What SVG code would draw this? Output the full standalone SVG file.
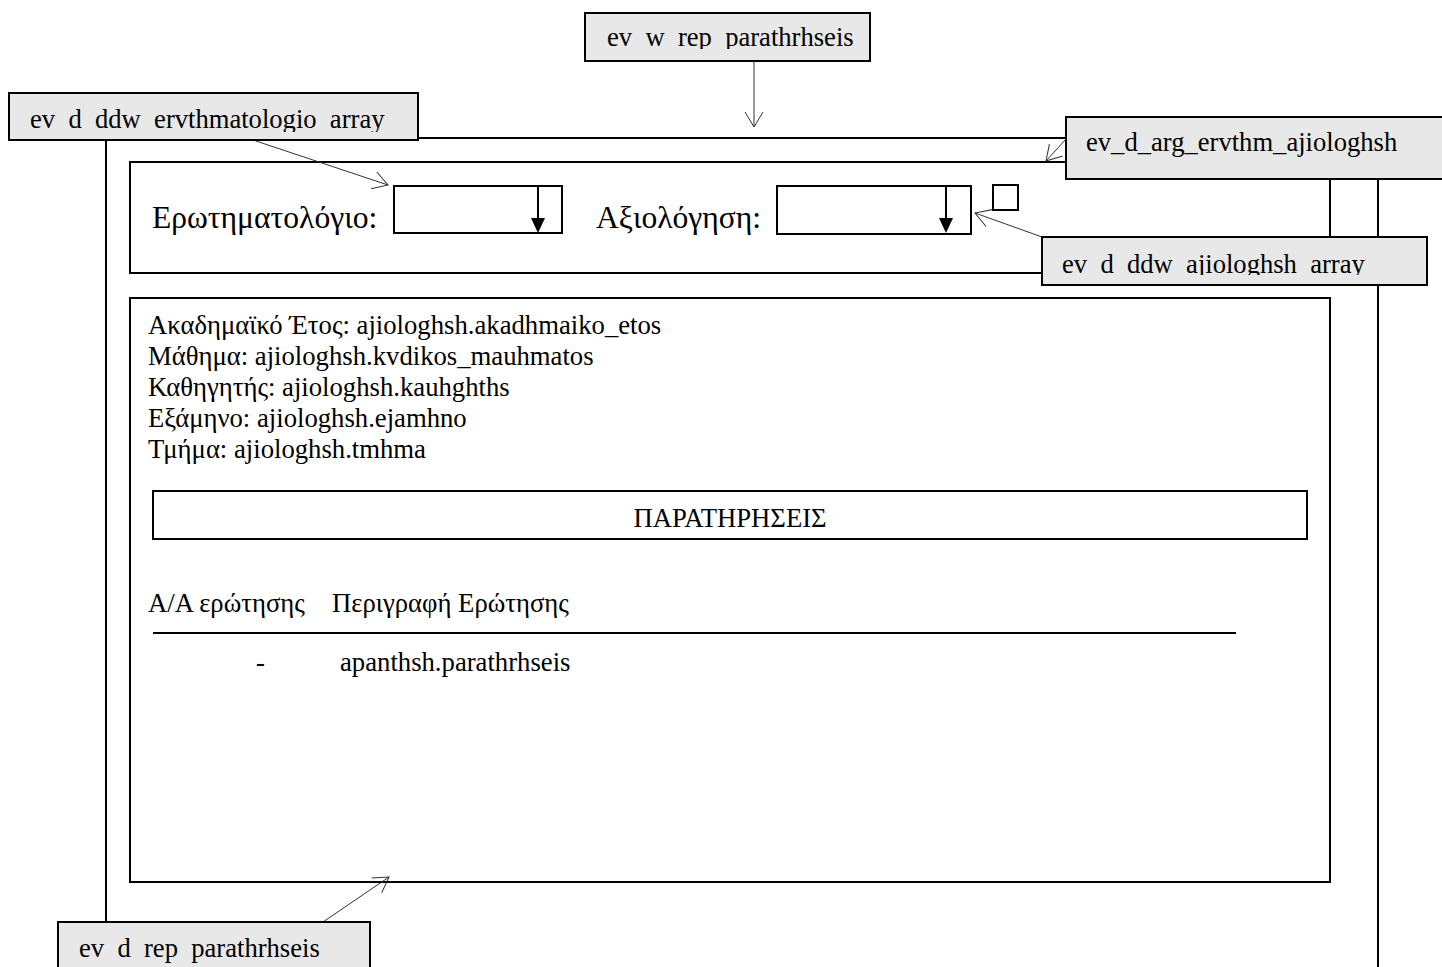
<svg xmlns="http://www.w3.org/2000/svg" width="1442" height="967" viewBox="0 0 1442 967">
<style>
.t{font-family:"Liberation Serif","Times New Roman",serif;fill:#000}
.lbl{font-size:26.6px}
.body{font-size:26.7px}
.big{font-size:31.6px}
.frame{fill:none;stroke:#000;stroke-width:2}
.lab{fill:#e8e8e8;stroke:#000;stroke-width:2}
.conn{fill:none;stroke:#333;stroke-width:1}
</style>
<defs>
<marker id="arr" viewBox="0 0 16 20" refX="15" refY="10" markerWidth="16" markerHeight="20" orient="auto" markerUnits="userSpaceOnUse">
<path d="M0,1 L15,10 L0,19" fill="none" stroke="#333" stroke-width="1"/>
</marker>
<clipPath id="c1"><rect x="9" y="93" width="409" height="39"/></clipPath>
<clipPath id="c2"><rect x="585" y="13" width="285" height="36"/></clipPath>
<clipPath id="c4"><rect x="1042" y="237" width="385" height="38"/></clipPath>
</defs>

<g id="outer-frame">
<rect class="frame" x="106" y="138" width="1272" height="900"/>
</g>

<g id="selector-panel">
<rect class="frame" x="130" y="162" width="1200" height="111"/>
<text class="t big" x="152" y="228">Ερωτηματολόγιο:</text>
<text class="t big" x="596" y="228">Αξιολόγηση:</text>
</g>

<g id="dropdown-erothmatologio">
<rect class="frame" x="394" y="186" width="168" height="47"/>
<line x1="538" y1="186" x2="538" y2="219" stroke="#000" stroke-width="2"/>
<polygon points="531,218 545,218 538,233" fill="#000"/>
</g>

<g id="dropdown-ajiologhsh">
<rect class="frame" x="777" y="186" width="194" height="48"/>
<line x1="946" y1="186" x2="946" y2="219" stroke="#000" stroke-width="2"/>
<polygon points="939,218 953,218 946,233" fill="#000"/>
</g>

<g id="checkbox">
<rect class="frame" x="993" y="185" width="25" height="25"/>
</g>

<g id="report-panel">
<rect class="frame" x="130" y="298" width="1200" height="584"/>
<text class="t body" x="148" y="334">Ακαδημαϊκό Έτος: ajiologhsh.akadhmaiko_etos</text>
<text class="t body" x="148" y="365">Μάθημα: ajiologhsh.kvdikos_mauhmatos</text>
<text class="t body" x="148" y="396">Καθηγητής: ajiologhsh.kauhghths</text>
<text class="t body" x="148" y="427">Εξάμηνο: ajiologhsh.ejamhno</text>
<text class="t body" x="148" y="458">Τμήμα: ajiologhsh.tmhma</text>
</g>

<g id="title-parathrhseis">
<rect class="frame" x="153" y="491" width="1154" height="48"/>
<text class="t body" x="730" y="527" text-anchor="middle">ΠΑΡΑΤΗΡΗΣΕΙΣ</text>
</g>

<g id="table">
<text class="t body" x="148" y="612">Α/Α ερώτησης</text>
<text class="t body" x="332" y="612">Περιγραφή Ερώτησης</text>
<line x1="153" y1="633" x2="1236" y2="633" stroke="#000" stroke-width="2"/>
<text class="t body" x="256" y="671">-</text>
<text class="t body" x="340" y="671">apanthsh.parathrhseis</text>
</g>

<g id="connectors">
<line class="conn" x1="250" y1="139" x2="388" y2="185" marker-end="url(#arr)"/>
<line class="conn" x1="754" y1="61" x2="754" y2="127" marker-end="url(#arr)"/>
<line class="conn" x1="1066" y1="139" x2="1046" y2="161" marker-end="url(#arr)"/>
<line class="conn" x1="1042" y1="237" x2="975" y2="213" marker-end="url(#arr)"/>
<line class="conn" x1="323" y1="922" x2="389" y2="877" marker-end="url(#arr)"/>
</g>

<g id="label-ev_d_ddw_ervthmatologio_array">
<rect class="lab" x="9" y="93" width="409" height="47"/>
<text class="t lbl" x="30" y="128" clip-path="url(#c1)" xml:space="preserve">ev  d  ddw  ervthmatologio  array</text>
</g>

<g id="label-ev_w_rep_parathrhseis">
<rect class="lab" x="585" y="13" width="285" height="48"/>
<text class="t lbl" x="607" y="46" clip-path="url(#c2)" xml:space="preserve">ev  w  rep  parathrhseis</text>
</g>

<g id="label-ev_d_arg_ervthm_ajiologhsh">
<rect class="lab" x="1066" y="117" width="380" height="62"/>
<text class="t lbl" x="1086" y="151">ev_d_arg_ervthm_ajiologhsh</text>
</g>

<g id="label-ev_d_ddw_ajiologhsh_array">
<rect class="lab" x="1042" y="237" width="385" height="48"/>
<text class="t lbl" x="1062" y="273" clip-path="url(#c4)" xml:space="preserve">ev  d  ddw  ajiologhsh  array</text>
</g>

<g id="label-ev_d_rep_parathrhseis">
<rect class="lab" x="58" y="922" width="312" height="60"/>
<text class="t lbl" x="79" y="957" xml:space="preserve">ev  d  rep  parathrhseis</text>
</g>
</svg>
